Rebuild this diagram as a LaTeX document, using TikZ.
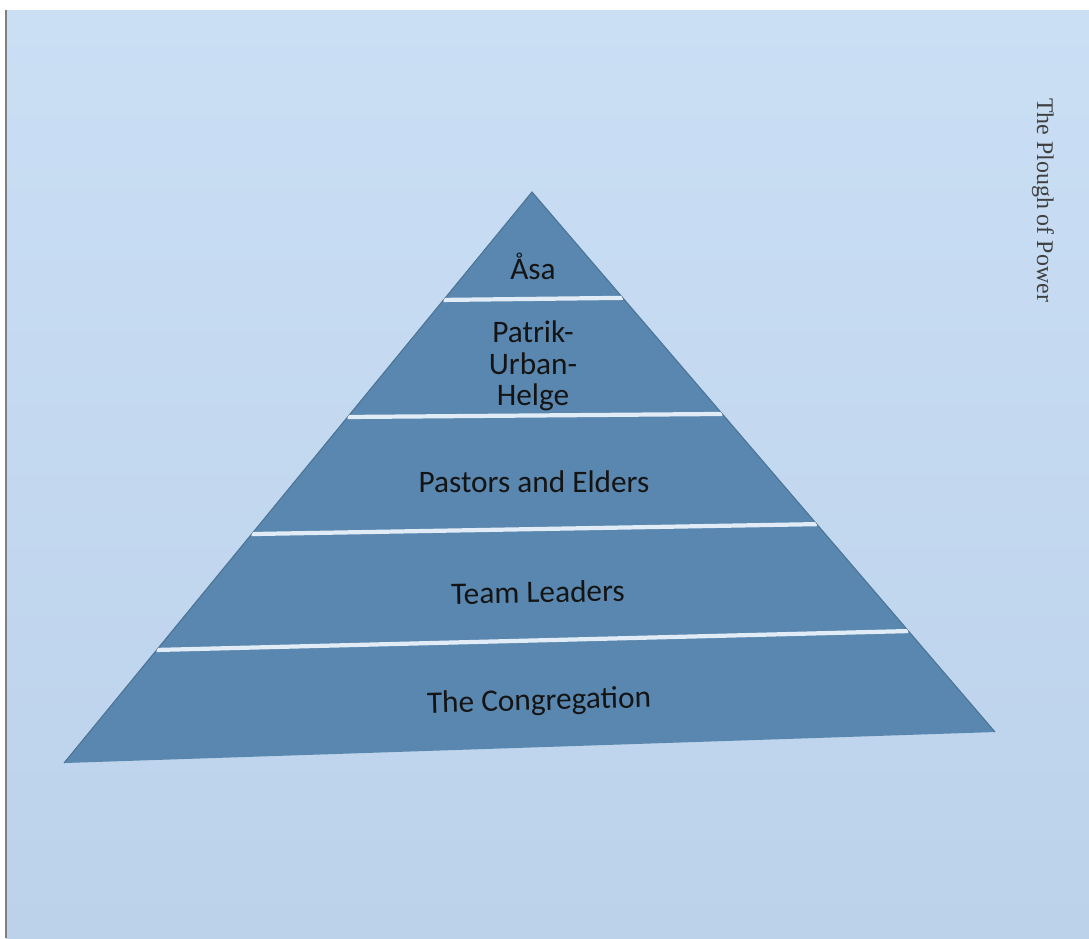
\documentclass[tikz,border=0pt]{standalone}
\usepackage{fontspec}
\setmainfont{Carlito}
\newfontfamily\ploughfont{Liberation Serif}
\usetikzlibrary{calc}
\definecolor{paper}{RGB}{197,218,240}
\definecolor{papertop}{RGB}{202,223,244}
\definecolor{paperbot}{RGB}{188,210,235}
\definecolor{layer}{RGB}{89,135,175}
\definecolor{gap}{RGB}{226,236,246}

\begin{document}
\begin{tikzpicture}[x=0.01cm,y=-0.01cm,
    level/.style={font=\fontsize{8.9}{8.9}\selectfont, text=black!92, align=center}]
    \useasboundingbox (0,0) rectangle (1089,938);

    % Background sheet
    \fill[white] (0,0) rectangle (1089,938);
    \shade[top color=papertop, bottom color=paperbot] (6,10) rectangle (1089,938);
    \draw[gray, line width=0.6pt] (6,10) -- (6,938);

    % Pyramid
    \coordinate (apex) at (532,192);
    \coordinate (bl) at (64,763);
    \coordinate (br) at (995,732);
    \fill[layer] (apex) -- (bl) -- (br) -- cycle;
    \draw[layer!85!black, line width=0.3pt] (bl) -- (apex) -- (br);

    % Gaps between the levels
    \begin{scope}
        \clip (apex) -- (bl) -- (br) -- cycle;
        \foreach \tl/\tr in {0.189/0.196,0.394/0.411,0.599/0.615,0.802/0.813}
            \draw[gap, line width=1.2pt] ($(apex)!\tl!(bl)$) -- ($(apex)!\tr!(br)$);
    \end{scope}

    % Labels
    \node[level] (asa) at (533,266) {Åsa};
    \node[level] (pub) at (533,366) {Patrik-\\Urban-\\Helge};
    \node[level] (pastors) at (534,482) {Pastors and Elders};
    \node[level, rotate=1] (team) at (538,592) {Team Leaders};
    \node[level, rotate=1.5] (cong) at (539,702) {The Congregation};

    % Side title
    \node[font=\ploughfont\fontsize{6.8}{7}\selectfont, text=black!75, rotate=-90] (title) at (1043,200) {The Plough of Power};
\end{tikzpicture}
\end{document}
